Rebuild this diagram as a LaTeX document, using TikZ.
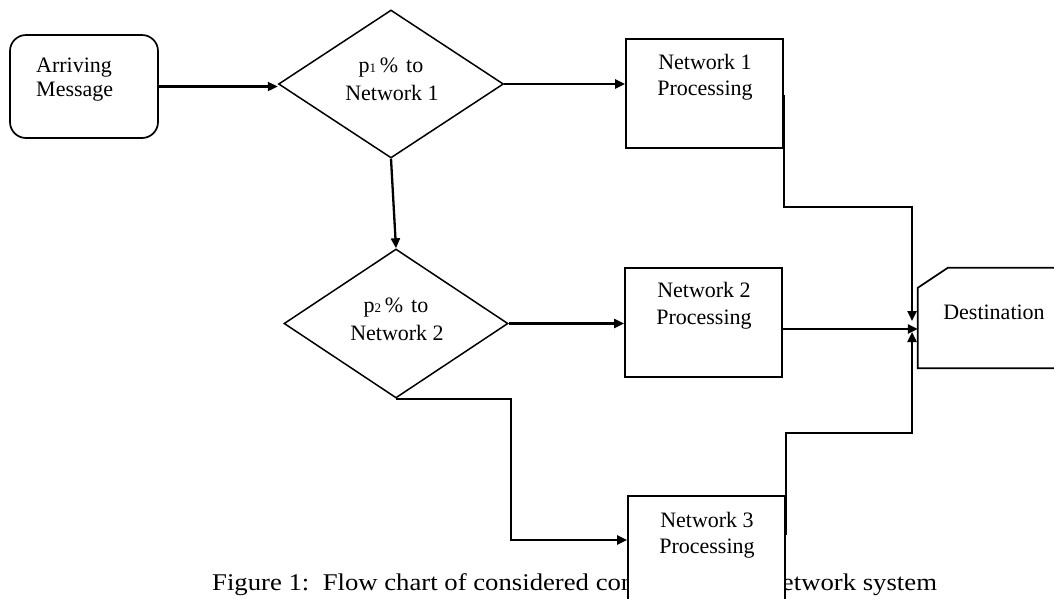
\documentclass[tikz,border=0pt]{standalone}
\usepackage{fontspec}
\usepackage{graphicx}
\setmainfont{Liberation Serif}
\usetikzlibrary{arrows.meta,shapes.geometric}
\begin{document}
\begin{tikzpicture}[x=1pt,y=-1pt,
  box/.style={draw,line width=1.7pt,minimum width=157pt,minimum height=109pt,inner sep=0pt,fill=white},
  dia/.style={draw,diamond,line width=1.5pt,inner sep=0pt},
  txt/.style={font=\fontsize{22}{26}\selectfont,anchor=base,inner sep=0pt},
  conn/.style={line width=2.3pt},
  arrow/.style={conn,-{Triangle[length=10pt,width=9pt]}}]
\path[use as bounding box, clip] (0,0) rectangle (1054,598);

% caption (partly covered by Network 3 box)
\node[anchor=base west,inner sep=0pt,font=\fontsize{24}{28}\selectfont] (cap) at (212,590)
  {\scalebox{1.113}[1]{Figure 1:\ \ Flow chart of considered communication network system}};

% Arriving message
\node[draw,rounded corners=16pt,line width=1.7pt,minimum width=148pt,minimum height=103pt,inner sep=0pt] (msg) at (84,86.5) {};
\node[txt,anchor=base west] (msgt1) at (36,72) {Arriving};
\node[txt,anchor=base west] (msgt2) at (36,96) {Message};

% decision 1
\node[dia,minimum width=225pt,minimum height=148pt] (d1) at (391,84) {};
\node[txt] (d1t1) at (391,72) {p{\fontsize{13}{13}\selectfont 1}\,\%\hspace{8pt}to};
\node[txt] (d1t2) at (392,100) {Network 1};

% decision 2
\node[dia,minimum width=224pt,minimum height=149pt] (d2) at (396,323.5) {};
\node[txt] (d2t1) at (396,312) {p{\fontsize{13}{13}\selectfont 2}\,\%\hspace{8pt}to};
\node[txt] (d2t2) at (397,340) {Network 2};

% processing boxes
\node[box] (n1) at (704.5,93.5) {};
\node[txt] (n1t1) at (705,69) {Network 1};
\node[txt] (n1t2) at (705,95) {Processing};

\node[box] (n2) at (703.5,322.5) {};
\node[txt] (n2t1) at (704,297) {Network 2};
\node[txt] (n2t2) at (704,324) {Processing};

\node[box] (n3) at (706.5,550.5) {};
\node[txt] (n3t1) at (707,527) {Network 3};
\node[txt] (n3t2) at (707,553) {Processing};

% destination
\node[minimum width=152pt,minimum height=100pt,inner sep=0pt] (dest) at (994,318) {};
\draw[line width=1.7pt] (dest.north east) -- ([xshift=30pt]dest.north west) -- ([yshift=-20pt]dest.north west) -- (dest.south west) -- (dest.south east);
\node[txt] (destt) at (994,319) {Destination};

% connectors
\coordinate (j1) at (912,207);
\coordinate (t1) at (912,321);
\coordinate (j3) at (511,540);
\coordinate (j4) at (912,433);
\coordinate (t4) at (912,332);

\draw[arrow] (msg.east) -- (msg.east -| d1.west);
\draw[arrow] (d1.east) -- (d1.east -| n1.west);
\draw[arrow] (d1.south) -- (d2.north);
\draw[arrow] (d2.east) -- (d2.east -| n2.west);
\draw[arrow] (d2.south) -| (j3) -- (j3 -| n3.west);
\draw[arrow] ([yshift=-1.5pt]n1.east) |- (j1) -- (t1);
\draw[arrow] ([yshift=-6.5pt]n2.east) -- ([yshift=-6.5pt]n2.east -| dest.west);
\draw[arrow] ([yshift=15.5pt]n3.east) |- (j4) -- (t4);
\end{tikzpicture}
\end{document}
